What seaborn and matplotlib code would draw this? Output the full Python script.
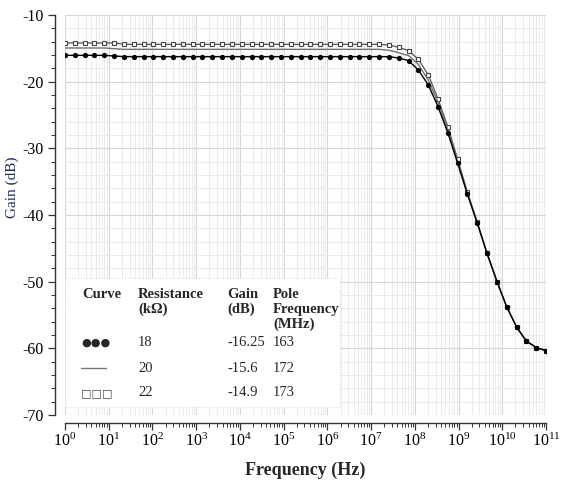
import numpy as np
import pandas as pd
import matplotlib
matplotlib.use('Agg')
import matplotlib.pyplot as plt
import matplotlib.ticker as mticker
import seaborn as sns

# -- Data --
FREQ_EXP = [0.00, 0.22, 0.45, 0.67, 0.90, 1.12, 1.35, 1.57, 1.80, 2.02,
            2.24, 2.47, 2.69, 2.92, 3.14, 3.37, 3.59, 3.82, 4.04, 4.27,
            4.49, 4.71, 4.94, 5.16, 5.39, 5.61, 5.84, 6.06, 6.29, 6.51,
            6.73, 6.96, 7.18, 7.41, 7.63, 7.86, 8.08, 8.31, 8.53, 8.76,
            8.98, 9.20, 9.43, 9.65, 9.88, 10.10, 10.33, 10.55, 10.78, 11.00]
FREQ = [10 ** e for e in FREQ_EXP]

ROLLOFF_TAIL = [-53.75, -56.85, -58.9, -59.9, -60.35]

GAIN_18K = ([-16.05] * 5 + [-16.15] + [-16.25] * 28
            + [-16.45, -16.85, -18.25, -20.5, -23.75, -27.75, -32.25,
               -36.85, -41.25, -45.75, -50.0] + ROLLOFF_TAIL)
GAIN_20K = ([-14.95] * 5 + [-15.05] + [-15.15] * 27
            + [-15.3, -15.65, -16.1, -17.4, -19.8, -23.1, -27.3, -32.0,
               -36.7, -41.2, -45.7, -50.0] + ROLLOFF_TAIL)
GAIN_22K = ([-14.2] * 6 + [-14.4] * 27
            + [-14.5, -14.85, -15.35, -16.65, -19.0, -22.6, -26.85, -31.65,
               -36.5, -41.1, -45.7, -50.0] + ROLLOFF_TAIL)

TABLE_HEAD = ["Curve", "Resistance\n(k\u03a9)", "Gain\n(dB)", "Pole\nFrequency\n(MHz)"]
TABLE_R    = ["18", "20", "22"]
TABLE_GAIN = ["-16.25", "-15.6", "-14.9"]
TABLE_POLE = ["163", "172", "173"]

# -- Style --
sns.set_style("white")
plt.rcParams['font.family'] = ['Liberation Serif', 'DejaVu Sans']
plt.rcParams['mathtext.fontset'] = 'stix'
plt.rcParams['axes.unicode_minus'] = False

W, H = 569, 480
fig = plt.figure(figsize=(W / 100, H / 100), dpi=100)
ax = fig.add_axes([65 / W, 1 - 415 / H, 481 / W, 400 / H])

df = pd.DataFrame({"freq": FREQ, "g18": GAIN_18K, "g20": GAIN_20K, "g22": GAIN_22K})

sns.lineplot(data=df, x="freq", y="g22", ax=ax, color='#555555', lw=0.9,
             marker='s', markersize=3.5, markerfacecolor='white',
             markeredgecolor='#444444', markeredgewidth=0.8, zorder=3)
sns.lineplot(data=df, x="freq", y="g20", ax=ax, color='#707070', lw=1.0, zorder=3)
sns.lineplot(data=df, x="freq", y="g18", ax=ax, color='black', lw=1.0,
             marker='o', markersize=3.8, markeredgewidth=0, zorder=4)

ax.set_xscale('log')
ax.set_xlim(1, 1e11)
ax.set_ylim(-70, -10)

ax.xaxis.set_major_locator(mticker.LogLocator(base=10, numticks=20))
ax.xaxis.set_minor_locator(mticker.LogLocator(base=10, subs=np.arange(2, 10), numticks=20))
ax.xaxis.set_minor_formatter(mticker.NullFormatter())
ax.yaxis.set_major_locator(mticker.MultipleLocator(10))
ax.yaxis.set_minor_locator(mticker.MultipleLocator(2))

ax.grid(True, which='major', color='#d6d6d6', lw=0.8)
ax.grid(True, which='minor', color='#ebebeb', lw=0.7)
ax.set_axisbelow(True)

for s in ['top', 'right']:
    ax.spines[s].set_visible(False)
for s in ['left', 'bottom']:
    ax.spines[s].set_color('#333333')
    ax.spines[s].set_linewidth(1.0)
ax.spines['left'].set_position(('outward', 7))
ax.spines['bottom'].set_position(('outward', 6))

ax.tick_params(which='major', direction='out', length=5, width=0.9,
               colors='#333333', labelsize=11.5, labelcolor='black',
               left=True, bottom=True)
ax.tick_params(which='minor', direction='out', length=3, width=0.7,
               colors='#333333', left=True, bottom=True)
ax.tick_params(axis='x', pad=2)

ax.set_xlabel('Frequency (Hz)', fontsize=13, fontweight='bold', labelpad=8)
ax.set_ylabel('Gain (dB)', fontsize=11, color='#1f2b5c', labelpad=2, y=0.57)

# -- Inset table (white box over the grid) --
def fx(px):
    return (px - 65) / 481

def fy(py):
    return (415 - py) / 400

box = plt.Rectangle((0, fy(407)), fx(340), fy(278) - fy(407), transform=ax.transAxes,
                    facecolor='white', edgecolor='#dddddd', lw=0.8, ls=':', zorder=5)
ax.add_patch(box)

cols = [82, 138, 227, 273]
for x, txt in zip(cols, TABLE_HEAD):
    ax.text(fx(x), fy(288), txt, transform=ax.transAxes, fontsize=10.5,
            fontweight='bold', va='top', ha='left', linespacing=1.15, zorder=6)

rows_y = [343, 368, 393]
for y, r, g, p in zip(rows_y, TABLE_R, TABLE_GAIN, TABLE_POLE):
    for x, txt in zip(cols[1:], [r, g, p]):
        ax.text(fx(x), fy(y), txt, transform=ax.transAxes, fontsize=10.5,
                va='center', ha='left', zorder=6)

ax.text(fx(81), fy(343), '\u25cf\u25cf\u25cf', transform=ax.transAxes, fontsize=8,
        family=['DejaVu Sans'], va='center', ha='left', zorder=6)
ax.plot([fx(81), fx(106)], [fy(368), fy(368)], transform=ax.transAxes,
        color='#777777', lw=1.0, zorder=6)
ax.text(fx(81), fy(393), '\u25a1\u25a1\u25a1', transform=ax.transAxes, fontsize=8,
        family=['DejaVu Sans'], va='center', ha='left', color='#444444', zorder=6)

fig.savefig('out.png', dpi=100)
